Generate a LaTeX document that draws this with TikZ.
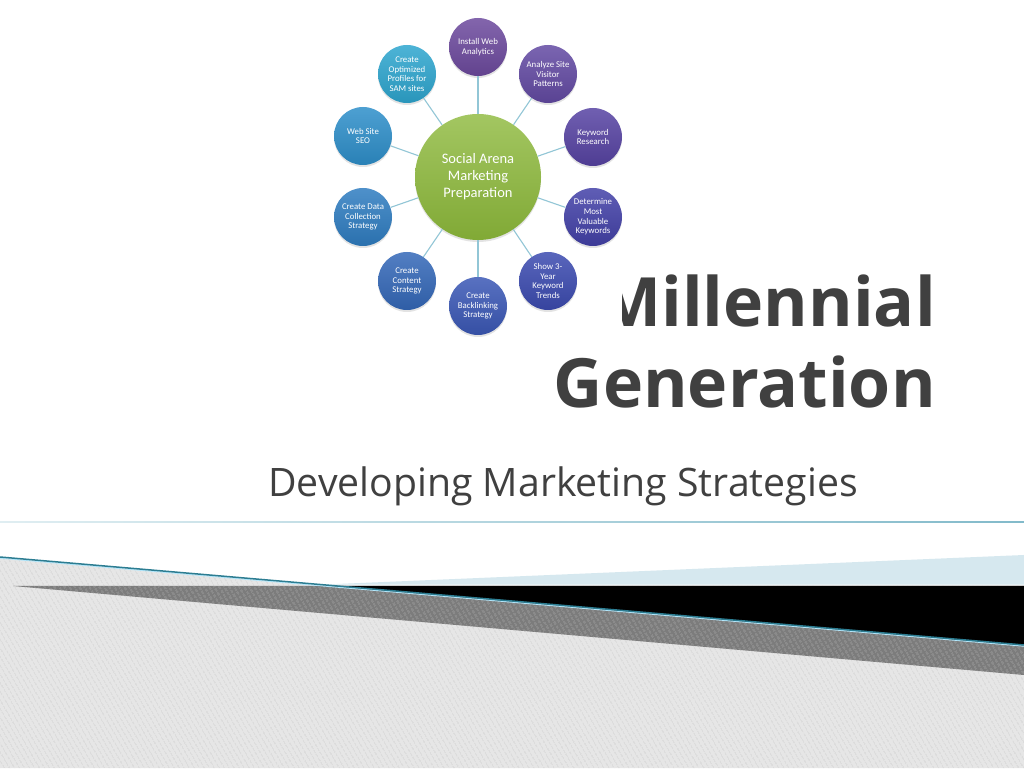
\documentclass[tikz,border=0pt]{standalone}
\usepackage{fontspec}
\newfontfamily\titlefont{Open Sans}
\newfontfamily\smartfont{Carlito}
\usetikzlibrary{shadows,patterns.meta}

\definecolor{titlegray}{HTML}{404040}
\definecolor{linkblue}{HTML}{92C6D6}
\definecolor{hubgreen}{HTML}{8CB83A}
\definecolor{ruleteal}{HTML}{82BACA}
\definecolor{edgeteal}{HTML}{2C7D92}
\definecolor{paleblue}{HTML}{D6E8EF}
\definecolor{stripegray}{HTML}{E6E6E6}
\definecolor{bandgray}{HTML}{7C7C7C}
\definecolor{installc}{HTML}{6D4A9E}
\definecolor{analyzec}{HTML}{634AA3}
\definecolor{keywordc}{HTML}{5743A3}
\definecolor{determinec}{HTML}{4341A8}
\definecolor{trendsc}{HTML}{3C4BB0}
\definecolor{backlinkc}{HTML}{3B58B6}
\definecolor{contentc}{HTML}{3468B8}
\definecolor{datacollc}{HTML}{2F7DC1}
\definecolor{seoc}{HTML}{2E8FCA}
\definecolor{profilesc}{HTML}{2EA6CF}

\tikzset{
  spoke/.style={circle, minimum size=58pt, inner sep=0pt, text=white, align=center,
    font=\smartfont\fontsize{8.8}{9.6}\selectfont,
    drop shadow={opacity=0.22, shadow xshift=0pt, shadow yshift=-2pt}},
  orb/.style={spoke, top color=#1!85!white, bottom color=#1!90!black},
  link/.style={draw=linkblue, line width=1.1pt},
}

\begin{document}
\begin{tikzpicture}[x=1pt,y=1pt]
\useasboundingbox (0,0) rectangle (1024,768);
\fill[white] (0,0) rectangle (1024,768);

% bottom bands
\fill[stripegray] (0,211) -- (1024,123) -- (1024,0) -- (0,0) -- cycle;
\fill[pattern={Lines[angle=-60,distance=4pt,line width=0.9pt]}, pattern color=black!20]
  (0,211) -- (1024,123) -- (1024,0) -- (0,0) -- cycle;
\fill[bandgray] (13,182) -- (1024,182) -- (1024,93) -- cycle;
\fill[pattern={Lines[angle=-60,distance=4pt,line width=0.9pt]}, pattern color=black!35]
  (13,182) -- (1024,182) -- (1024,93) -- cycle;
\fill[black] (337.6,182) -- (1024,182) -- (1024,123) -- cycle;
\fill[paleblue] (320,183.3) -- (1024,213) -- (1024,183.3) -- cycle;
\draw[cyan!30, line width=1pt] (0,209.8) -- (1024,121.8);
\draw[edgeteal, line width=1.5pt] (0,211) -- (1024,123);
\shade[left color=ruleteal!25, right color=ruleteal] (0,245.4) rectangle (1024,246.6);

% title
\node[anchor=base east, text=titlegray, inner sep=0pt,
  font=\titlefont\bfseries\fontsize{68}{80}\selectfont] (title1) at (936,441) {Millennial};
\node[anchor=base east, text=titlegray, inner sep=0pt,
  font=\titlefont\bfseries\fontsize{68}{80}\selectfont] (title2) at (936,360) {Generation};
\node[anchor=base, text=titlegray, inner sep=0pt,
  font=\titlefont\fontsize{39.2}{44}\selectfont] (subtitle) at (563,271) {Developing Marketing Strategies};

% diagram
\fill[white] (325,426) rectangle (622,763);
\node[circle, minimum size=126pt, inner sep=0pt, text=white, align=center,
  top color=hubgreen!80!white, bottom color=hubgreen!92!black,
  drop shadow={opacity=0.22, shadow xshift=0pt, shadow yshift=-2pt},
  font=\smartfont\fontsize{14.5}{17}\selectfont] (hub) at (478,591) {Social Arena\\Marketing\\Preparation};
\node[orb=installc] (install) at (478,721) {Install Web\\Analytics};
\node[orb=analyzec] (analyze) at (548,694) {Analyze Site\\Visitor\\Patterns};
\node[orb=keywordc] (keyword) at (593,631) {Keyword\\Research};
\node[orb=determinec] (determine) at (593,551) {Determine\\Most\\Valuable\\Keywords};
\node[orb=trendsc] (trends) at (548,487) {Show 3-\\Year\\Keyword\\Trends};
\node[orb=backlinkc] (backlink) at (478,462) {Create\\Backlinking\\Strategy};
\node[orb=contentc] (content) at (407,487) {Create\\Content\\Strategy};
\node[orb=datacollc] (datacoll) at (363,551) {Create Data\\Collection\\Strategy};
\node[orb=seoc] (seo) at (363,632) {Web Site\\SEO};
\node[orb=profilesc] (profiles) at (407,694) {Create\\Optimized\\Profiles for\\SAM sites};
\draw[link] (hub) -- (install);
\draw[link] (hub) -- (analyze);
\draw[link] (hub) -- (keyword);
\draw[link] (hub) -- (determine);
\draw[link] (hub) -- (trends);
\draw[link] (hub) -- (backlink);
\draw[link] (hub) -- (content);
\draw[link] (hub) -- (datacoll);
\draw[link] (hub) -- (seo);
\draw[link] (hub) -- (profiles);
\end{tikzpicture}
\end{document}
